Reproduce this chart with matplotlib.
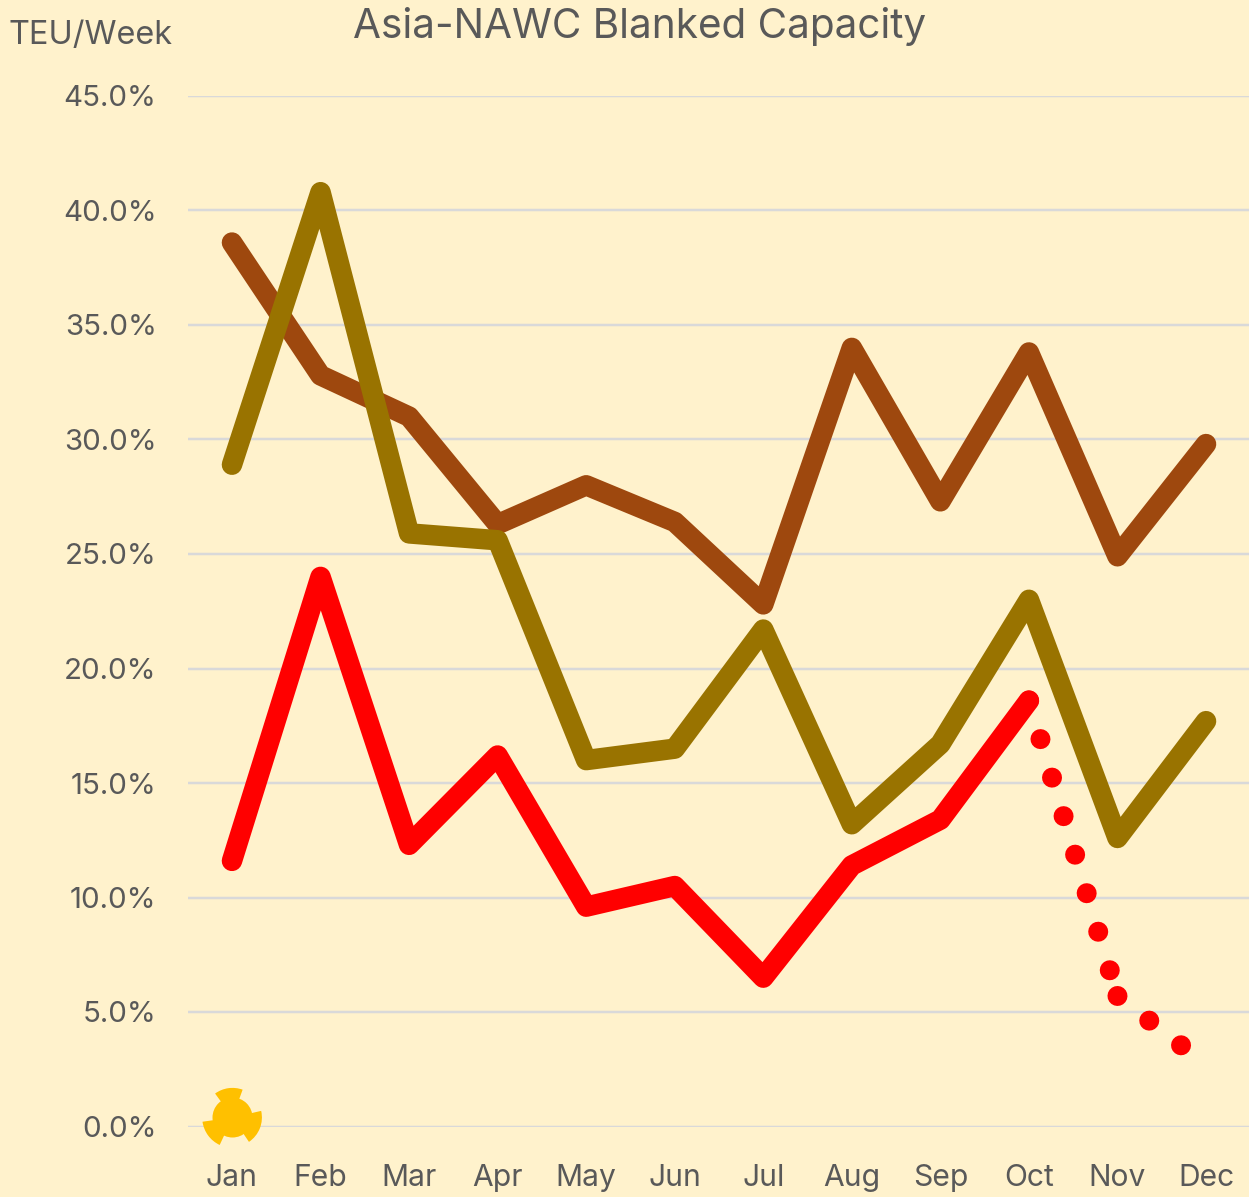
import matplotlib
matplotlib.use("Agg")
import matplotlib.pyplot as plt
from matplotlib.path import Path

months = ["Jan", "Feb", "Mar", "Apr", "May", "Jun", "Jul", "Aug", "Sep", "Oct", "Nov", "Dec"]
brown_vals = [38.6, 32.8, 31.0, 26.3, 28.0, 26.4, 22.8, 34.0, 27.3, 33.8, 24.9, 29.8]
olive_vals = [28.9, 40.8, 25.9, 25.6, 16.0, 16.5, 21.7, 13.2, 16.7, 23.0, 12.6, 17.7]
red_vals = [11.6, 24.0, 12.3, 16.2, 9.6, 10.5, 6.5, 11.4, 13.4, 18.6]
forecast_vals = [18.6, 5.7, 2.7]
jan_marker_val = [0.4]
yticks = [0, 5, 10, 15, 20, 25, 30, 35, 40, 45]

W, H, DPI = 1249, 1197, 100
px = 72 / DPI
BG = "#FFF2CC"
TXT = "#595959"

plt.rcParams["font.family"] = ["Inter", "DejaVu Sans"]

fig = plt.figure(figsize=(W / DPI, H / DPI), dpi=DPI, facecolor=BG)
ax = fig.add_axes([187.7 / W, (H - 1126.5) / H, 1062.6 / W, 1030.5 / H], facecolor=BG)

x = list(range(12))
lw = 20.5 * px
ax.plot(x, brown_vals, color="#9E480E", lw=lw, solid_capstyle="round", solid_joinstyle="round")
ax.plot(x, olive_vals, color="#997300", lw=lw, solid_capstyle="round", solid_joinstyle="round")
ax.plot(x[:len(red_vals)], red_vals, color="#FF0000", lw=lw, solid_capstyle="round", solid_joinstyle="round")

# dots restart at each vertex, so draw the forecast one segment at a time
for i in range(len(forecast_vals) - 1):
    ax.plot([9 + i, 10 + i], forecast_vals[i:i + 2], color="#FF0000", lw=20 * px,
            linestyle=(0, (0.001, 2.01)), dash_capstyle="round")

# odd trefoil marker on Jan
for a, b in [(70, 126), (-56, 13), (188, 245)]:
    ax.plot([0], jan_marker_val, marker=Path.wedge(a, b), ms=60 * px, color="#FFC000",
            mew=0, clip_on=False, zorder=5)
ax.plot([0], jan_marker_val, marker="o", ms=40 * px, color="#FFC000", mew=0, clip_on=False, zorder=5)

ax.set_xlim(-0.5, 11.5)
ax.set_ylim(0, 45)
ax.set_xticks(x)
ax.set_xticklabels(months)
ax.set_yticks(yticks)
ax.set_yticklabels(["%.1f%%" % v for v in yticks])
ax.tick_params(axis="y", length=0, pad=31 * px, labelsize=29.5 * px, labelcolor=TXT)
ax.tick_params(axis="x", length=0, pad=38 * px, labelsize=30 * px, labelcolor=TXT)
ax.grid(axis="y", color="#D9D9D9", lw=2.5 * px)
ax.set_axisbelow(True)
for s in ax.spines.values():
    s.set_visible(False)

fig.text(640 / W, 1 - 26 / H, "Asia-NAWC Blanked Capacity", color=TXT, fontsize=40.5 * px,
         ha="center", va="center")
fig.text(9 / W, 1 - 36 / H, "TEU/Week", color=TXT, fontsize=32.5 * px, ha="left", va="center")

fig.savefig("out.png", dpi=DPI, facecolor=BG)
